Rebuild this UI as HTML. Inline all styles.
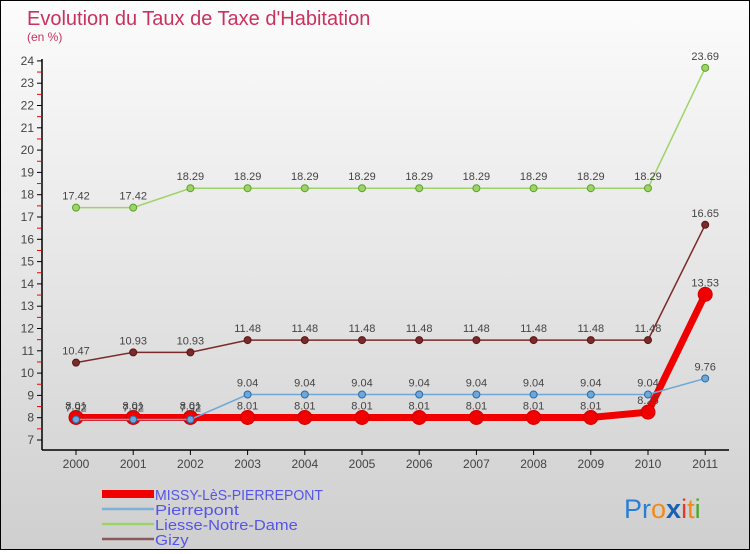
<!DOCTYPE html>
<html><head><meta charset="utf-8"><style>
body{margin:0;width:750px;height:550px;overflow:hidden;font-family:"Liberation Sans",sans-serif}
#c{position:absolute;left:0;top:0;width:748px;height:548px;border:1px solid #000;background:linear-gradient(#fcfcfc,#cfcfcf)}
</style></head><body>
<div id="c">
<svg id="s" width="748" height="548">
<text x="26" y="24" font-size="20" fill="#c8325f">Evolution du Taux de Taxe d'Habitation</text>
<text x="26" y="40" font-size="12" fill="#c8325f">(en %)</text>
<g id="g"></g>
<text x="623" y="517" font-size="27"><tspan fill="#2a7fd4">Pr</tspan><tspan fill="#f08a1c">o</tspan><tspan fill="#1a5fb4" font-weight="bold">x</tspan><tspan fill="#e23a2a">i</tspan><tspan fill="#f08a1c">t</tspan><tspan fill="#4aa82a">i</tspan></text>
</svg></div>
<script>
const years=[2000,2001,2002,2003,2004,2005,2006,2007,2008,2009,2010,2011];
const missy=[8.01,8.01,8.01,8.01,8.01,8.01,8.01,8.01,8.01,8.01,8.25,13.53];
const pierrepont=[7.92,7.92,7.92,9.04,9.04,9.04,9.04,9.04,9.04,9.04,9.04,9.76];
const liesse=[17.42,17.42,18.29,18.29,18.29,18.29,18.29,18.29,18.29,18.29,18.29,23.69];
const gizy=[10.47,10.93,10.93,11.48,11.48,11.48,11.48,11.48,11.48,11.48,11.48,16.65];
const yTicks=[7,8,9,10,11,12,13,14,15,16,17,18,19,20,21,22,23,24];
const names=["MISSY-LèS-PIERREPONT","Pierrepont","Liesse-Notre-Dame","Gizy"];
const NS="http://www.w3.org/2000/svg";
const g=document.getElementById('g');
const X=i=>75+i*57.2;
const Y=v=>439-(v-7)*22.3;
function el(t,a,p){const e=document.createElementNS(NS,t);for(const k in a)e.setAttribute(k,a[k]);(p||g).appendChild(e);return e;}
let a=el('line',{x1:41,y1:58,x2:41,y2:449,stroke:'#000','stroke-width':1.5});


a=el('line',{x1:41,y1:449,x2:728,y2:449,stroke:'#000','stroke-width':1.5});


yTicks.forEach(v=>{
 el('line',{x1:36,x2:41,y1:Y(v),y2:Y(v),stroke:'#000'});
 if(v<24)el('line',{x1:36,x2:41,y1:Y(v+0.5),y2:Y(v+0.5),stroke:'#e00'});
 const t=el('text',{x:33,y:Y(v)+4,'font-size':12,fill:'#444','text-anchor':'end'});t.textContent=v;
 
 
});
years.forEach((yr,i)=>{
 el('line',{x1:X(i),x2:X(i),y1:449,y2:454,stroke:'#000'});
 const t=el('text',{x:X(i),y:467,'font-size':12,fill:'#444','text-anchor':'middle'});t.textContent=yr;
 
 
});
function series(d,col,dark,w,r,name){
 const p=el('polyline',{points:d.map((v,i)=>X(i)+','+Y(v)).join(' '),fill:'none',stroke:col,'stroke-width':w});
 
 
 d.forEach((v,i)=>{
  const c=el('circle',{cx:X(i),cy:Y(v),r:r,fill:col,stroke:dark,'stroke-width':1});
  
  
  const t=el('text',{x:X(i),y:Y(v)-8,'font-size':11,fill:'#444','text-anchor':'middle'});t.textContent=v;
  
  
 });
}
series(liesse,'#9ed36a','#5aa22a',1.5,3.5,'liesse');
series(gizy,'#7a2a2a','#5a1515',1.5,3.5,'gizy');
series(missy,'#f00000','#d00000',7,7,'missy');
series(pierrepont,'#6fa8d8','#2a6aa8',1.5,3.5,'pierrepont');
const lc=['#f00000','#7fb0d8','#9ed36a','#8a5a5a'];
names.forEach((n,i)=>{
 const y=493+i*15;
 el('line',{x1:101,x2:153,y1:y,y2:y,stroke:lc[i],'stroke-width':i==0?8:2.5});
 const t=el('text',{x:154,y:y+6,'font-size':15,fill:'#5555e8',textLength:n.length*8.4,lengthAdjust:'spacingAndGlyphs'});t.textContent=n;
 
 
});
</script>
</body></html>
